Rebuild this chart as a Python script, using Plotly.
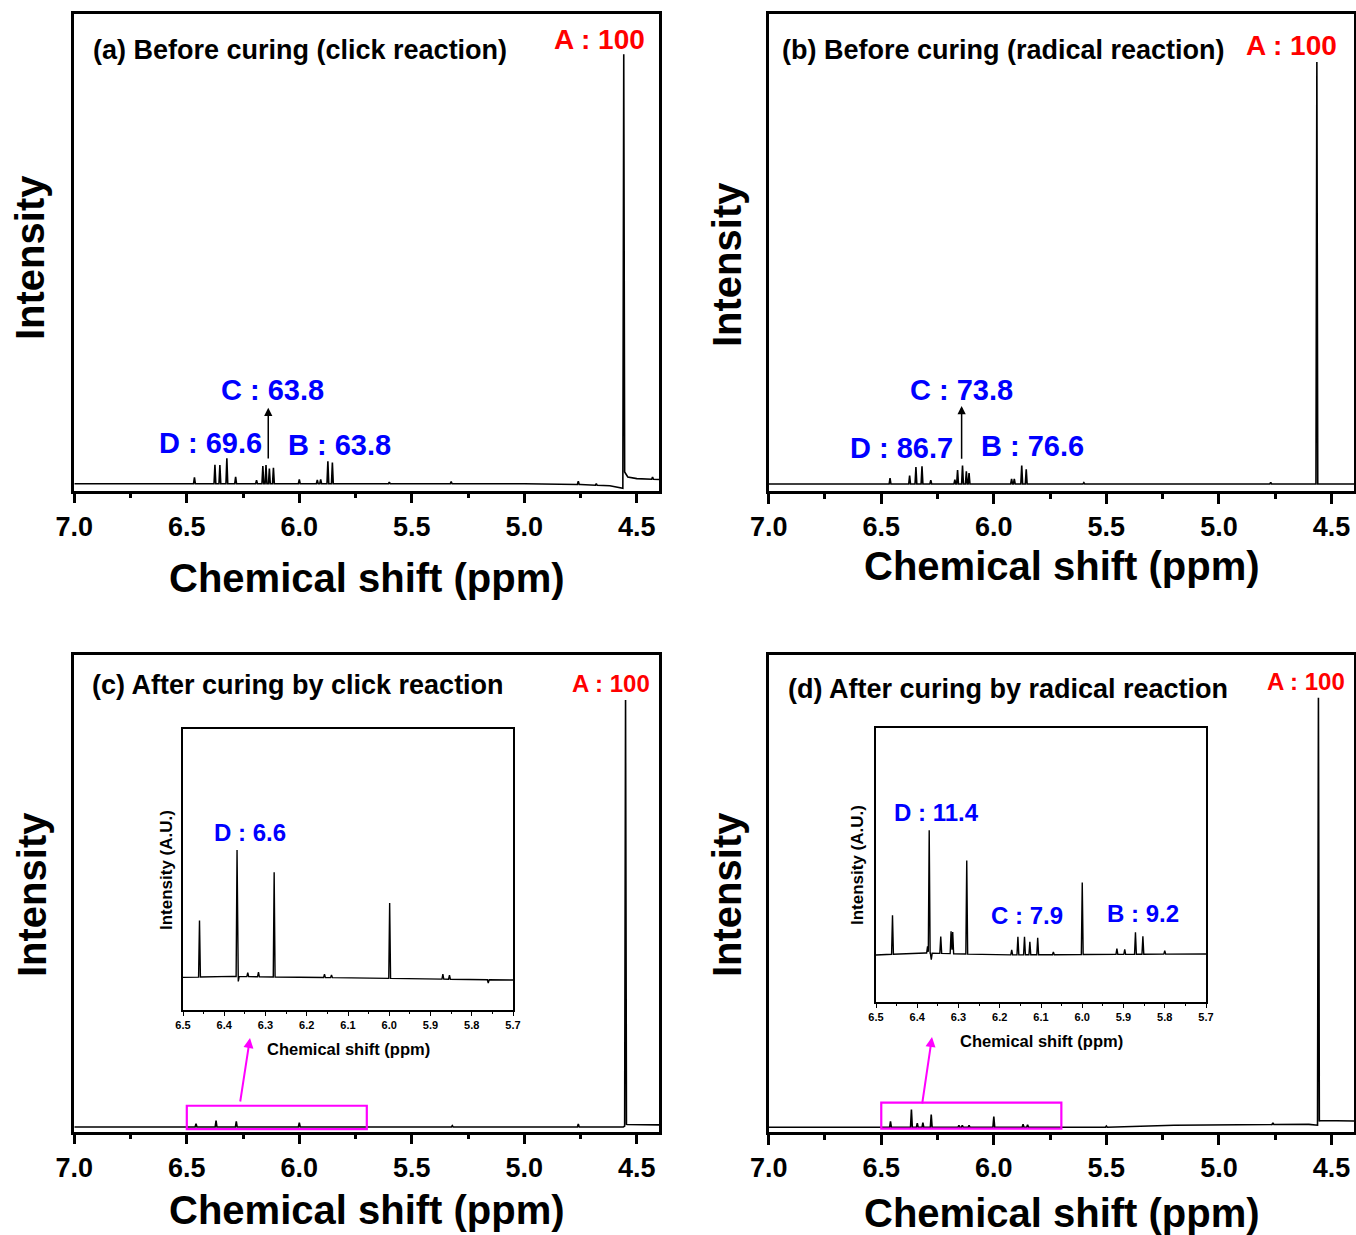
import numpy as np
import plotly.graph_objects as go

W, H = 1356, 1235

# ---------------- data ----------------
# Panel (a): before curing, click reaction
a_ppm = [6.466, 6.375, 6.353, 6.322, 6.283, 6.19, 6.162, 6.148, 6.133, 6.115, 6.0,
         5.92, 5.905, 5.873, 5.853, 5.60, 5.325, 4.76, 4.68, 4.558, 4.43]
a_int = [1.5, 4.5, 4.4, 6.0, 1.6, 0.8, 4.2, 4.4, 3.6, 3.8, 1.0,
         0.9, 1.0, 5.3, 5.0, 0.4, 0.5, 0.8, 0.4, 101.0, 0.5]
a_base_ppm = [7.0, 5.0, 4.75, 4.62, 4.575, 4.562, 4.554, 4.54, 4.5, 4.4]
a_base_int = [0.0, 0.0, -0.2, -0.5, -0.9, -1.1, 2.8, 1.6, 1.2, 1.0]

# Panel (b): before curing, radical reaction
b_ppm = [6.461, 6.374, 6.346, 6.319, 6.28, 6.173, 6.161, 6.139, 6.122, 6.11,
         5.921, 5.909, 5.876, 5.856, 5.6, 4.77, 4.565]
b_int = [1.4, 2.0, 4.0, 4.2, 0.9, 1.0, 3.3, 4.4, 3.0, 2.6,
         1.2, 1.2, 4.4, 3.5, 0.3, 0.4, 100.0]
b_base_ppm = [7.0, 4.4]
b_base_int = [0.0, 0.0]

# Panel (c): after curing by click reaction
c_ppm = [6.459, 6.37, 6.28, 6.0, 5.32, 4.76, 4.55]
c_int = [0.8, 1.5, 1.3, 1.0, 0.3, 0.7, 100.0]
c_base_ppm = [7.0, 4.56, 4.545, 4.4]
c_base_int = [0.0, 0.0, 0.6, 0.5]

# Panel (d): after curing by radical reaction
d_ppm = [6.459, 6.366, 6.34, 6.315, 6.278, 6.155, 6.14, 6.11, 6.0, 5.87, 5.85, 5.5, 4.76, 4.558]
d_int = [1.4, 4.2, 1.0, 1.1, 3.0, 0.5, 0.5, 0.5, 2.5, 0.7, 0.6, 0.3, 0.4, 100.0]
d_base_ppm = [7.0, 5.5, 5.2, 4.6, 4.562, 4.552, 4.4]
d_base_int = [0.0, 0.0, 0.5, 0.7, 0.5, 1.6, 1.5]

# Inset of (c): 6.5 - 5.7 ppm
ci_ppm = [6.46, 6.369, 6.366, 6.343, 6.317, 6.279, 6.157, 6.14, 5.999, 5.87, 5.854, 5.76]
ci_int = [17.0, 38.0, -1.5, 1.2, 1.4, 31.5, 1.0, 0.8, 22.7, 1.5, 1.2, -1.0]
ci_base_ppm = [6.5, 6.38, 6.0, 5.7]
ci_base_int = [0.3, 0.6, 0.0, -0.5]

# Inset of (d): 6.5 - 5.7 ppm
di_ppm = [6.46, 6.375, 6.371, 6.366, 6.343, 6.318, 6.314, 6.28, 6.171, 6.156, 6.14,
          6.127, 6.108, 6.07, 6.0, 5.916, 5.897, 5.871, 5.853, 5.80]
di_int = [11.7, 2.0, 36.8, -2.0, 5.0, 6.7, 6.5, 28.0, 1.5, 5.4, 5.4,
          3.9, 5.1, 0.8, 21.6, 1.7, 1.5, 6.6, 5.4, 1.0]
di_base_ppm = [6.5, 6.38, 6.2, 5.7]
di_base_int = [0.0, 0.6, 0.0, 0.3]

x_major = [7.0, 6.5, 6.0, 5.5, 5.0, 4.5]
x_minor = [6.75, 6.25, 5.75, 5.25, 4.75]
inset_major = [6.5, 6.4, 6.3, 6.2, 6.1, 6.0, 5.9, 5.8, 5.7]
inset_minor = [6.45, 6.35, 6.25, 6.15, 6.05, 5.95, 5.85, 5.75]


def stick_spectrum(ppm, inten, base_ppm, base_int, w):
    """Piecewise-linear stick spectrum: each listed peak is a narrow tent on the listed baseline."""
    ppm = np.asarray(ppm, float)
    inten = np.asarray(inten, float)
    bx = np.asarray(base_ppm, float)
    by = np.asarray(base_int, float)
    pts = np.unique(np.concatenate([bx, ppm - w, ppm, ppm + w]))
    order = np.argsort(bx)
    y = np.interp(pts, bx[order], by[order])
    for p, h in zip(ppm, inten):
        y = y + h * np.clip(1 - np.abs(pts - p) / w, 0, None)
    return pts[::-1], y[::-1]


def px(x):
    return x / W


def py(y):
    return 1 - y / H


fig = go.Figure()

panels = [
    ("", a_ppm, a_int, a_base_ppm, a_base_int, 0.004),
    ("2", b_ppm, b_int, b_base_ppm, b_base_int, 0.004),
    ("3", c_ppm, c_int, c_base_ppm, c_base_int, 0.004),
    ("4", d_ppm, d_int, d_base_ppm, d_base_int, 0.004),
    ("5", ci_ppm, ci_int, ci_base_ppm, ci_base_int, 0.0022),
    ("6", di_ppm, di_int, di_base_ppm, di_base_int, 0.0022),
]
for suf, pp, ii, bp, bi, w in panels:
    xs, ys = stick_spectrum(pp, ii, bp, bi, w)
    fig.add_trace(go.Scatter(x=xs, y=ys, mode="lines",
                             line=dict(color="black", width=1.4 if suf in ("5", "6") else 1.6),
                             xaxis="x" + suf, yaxis="y" + suf, showlegend=False,
                             hoverinfo="skip"))

FONT = "Liberation Sans, Arial, sans-serif"

# main axes domains (pixel boxes)
boxes = {
    "": (74.3, 659.3, 14, 490.7, [-1.66, 111.4]),
    "2": (768.7, 1354.0, 14, 491.0, [-1.66, 111.4]),
    "3": (74.3, 659.3, 655, 1131.7, [-1.1, 111.0]),
    "4": (768.7, 1354.0, 655, 1132.0, [-1.1, 111.0]),
}
layout = dict(width=W, height=H, margin=dict(l=0, r=0, t=0, b=0, pad=0, autoexpand=False),
              autosize=False,
              paper_bgcolor="white", plot_bgcolor="rgba(0,0,0,0)",
              showlegend=False, font=dict(family=FONT, color="black"))

for suf, (x0, x1, y0, y1, yr) in boxes.items():
    layout["xaxis" + suf] = dict(
        domain=[px(x0), px(x1)], range=[7.0, 4.4], anchor="y" + suf, automargin=False,
        tickmode="array", tickvals=x_major, ticktext=[f"{v:.1f}" for v in x_major],
        ticks="outside", ticklen=10, tickwidth=2.5, tickcolor="black",
        minor=dict(tickmode="array", tickvals=x_minor, ticks="outside", ticklen=5,
                   tickwidth=2.5, tickcolor="black"),
        showline=True, linewidth=2.5, linecolor="black", mirror=True,
        showgrid=False, zeroline=False,
        tickfont=dict(family=FONT, size=27, color="black", weight="bold"))
    layout["yaxis" + suf] = dict(
        domain=[py(y1), py(y0)], range=yr, anchor="x" + suf, automargin=False,
        showline=True, linewidth=2.5, linecolor="black", mirror=True,
        showticklabels=False, ticks="", showgrid=False, zeroline=False)

insets = {
    "5": (183, 513, 729, 1010, [-9.5, 75]),
    "6": (876, 1206, 728, 1002, [-14.1, 68]),
}
for suf, (x0, x1, y0, y1, yr) in insets.items():
    layout["xaxis" + suf] = dict(
        domain=[px(x0), px(x1)], range=[6.5, 5.7], anchor="y" + suf, automargin=False,
        tickmode="array", tickvals=inset_major, ticktext=[f"{v:.1f}" for v in inset_major],
        ticks="outside", ticklen=4, tickwidth=1.2, tickcolor="black",
        minor=dict(tickmode="array", tickvals=inset_minor, ticks="outside", ticklen=2,
                   tickwidth=1.2, tickcolor="black"),
        showline=True, linewidth=1.6, linecolor="black", mirror=True,
        showgrid=False, zeroline=False,
        tickfont=dict(family=FONT, size=11, color="black", weight="bold"))
    layout["yaxis" + suf] = dict(
        domain=[py(y1), py(y0)], range=yr, anchor="x" + suf, automargin=False,
        showline=True, linewidth=1.6, linecolor="black", mirror=True,
        showticklabels=False, ticks="", showgrid=False, zeroline=False)

fig.update_layout(**layout)

BLUE = "#0000ff"
RED = "#ff0000"
MAG = "#ff00ff"


def text(x, y, s, size, color="black", xanchor="center", angle=0):
    fig.add_annotation(x=px(x), y=py(y), xref="paper", yref="paper", text=s,
                       showarrow=False, xanchor=xanchor, yanchor="middle",
                       textangle=angle,
                       font=dict(family=FONT, size=size, color=color, weight="bold"))


# axis titles
for cx, cy in [(367, 578), (1062, 566), (367, 1210), (1062, 1213)]:
    text(cx, cy, "Chemical shift (ppm)", 40)
for cx, cy in [(30, 258), (727, 265), (32, 895), (727, 895)]:
    text(cx, cy, "Intensity", 40, angle=-90)

# panel titles
text(91, 50, "(a) Before curing (click reaction)", 27, xanchor="left")
text(780, 50, "(b) Before curing (radical reaction)", 27, xanchor="left")
text(90, 685, "(c) After curing by click reaction", 27, xanchor="left")
text(786, 689, "(d) After curing by radical reaction", 27, xanchor="left")

# peak labels
text(599, 40, "A : 100", 28, RED)
text(1291, 46, "A : 100", 28, RED)
text(611, 683, "A : 100", 24, RED)
text(1306, 682, "A : 100", 24, RED)

text(272, 390, "C : 63.8", 29, BLUE)
text(210, 443, "D : 69.6", 29, BLUE)
text(339, 445, "B : 63.8", 29, BLUE)

text(961, 390, "C : 73.8", 29, BLUE)
text(901, 448, "D : 86.7", 29, BLUE)
text(1032, 446, "B : 76.6", 29, BLUE)

text(250, 832, "D : 6.6", 24, BLUE)
text(937, 812, "D : 11.4", 24, BLUE)
text(1027, 915, "C : 7.9", 24, BLUE)
text(1143, 913, "B : 9.2", 24, BLUE)

# inset axis titles
text(348, 1049, "Chemical shift (ppm)", 16.5)
text(1041, 1041, "Chemical shift (ppm)", 16.5)
text(166, 870, "Intensity (A.U.)", 17, angle=-90)
text(858, 865, "Intensity (A.U.)", 17, angle=-90)

# black arrows above the C multiplet in (a) and (b)
fig.add_annotation(x=6.138, y=18.0, ax=6.138, ay=5.6, xref="x", yref="y", axref="x", ayref="y",
                   text="", showarrow=True, arrowhead=2, arrowsize=1.1, arrowwidth=1.5,
                   arrowcolor="black")
fig.add_annotation(x=6.143, y=18.5, ax=6.143, ay=5.6, xref="x2", yref="y2", axref="x2", ayref="y2",
                   text="", showarrow=True, arrowhead=2, arrowsize=1.1, arrowwidth=1.5,
                   arrowcolor="black")

# magenta boxes marking the zoomed region
fig.add_shape(type="rect", x0=6.5, x1=5.7, y0=-0.5, y1=5.0, xref="x3", yref="y3",
              line=dict(color=MAG, width=2.2), fillcolor="rgba(0,0,0,0)")
fig.add_shape(type="rect", x0=6.5, x1=5.7, y0=-0.3, y1=5.8, xref="x4", yref="y4",
              line=dict(color=MAG, width=2.2), fillcolor="rgba(0,0,0,0)")

# magenta arrows to the insets (tail offsets in pixels)
fig.add_annotation(x=px(250), y=py(1038), ax=-10, ay=65, xref="paper", yref="paper",
                   axref="pixel", ayref="pixel", text="", showarrow=True, arrowhead=2,
                   arrowsize=1, arrowwidth=2, arrowcolor=MAG)
fig.add_annotation(x=px(932), y=py(1037), ax=-10, ay=68, xref="paper", yref="paper",
                   axref="pixel", ayref="pixel", text="", showarrow=True, arrowhead=2,
                   arrowsize=1, arrowwidth=2, arrowcolor=MAG)

fig.write_html("out.html")
